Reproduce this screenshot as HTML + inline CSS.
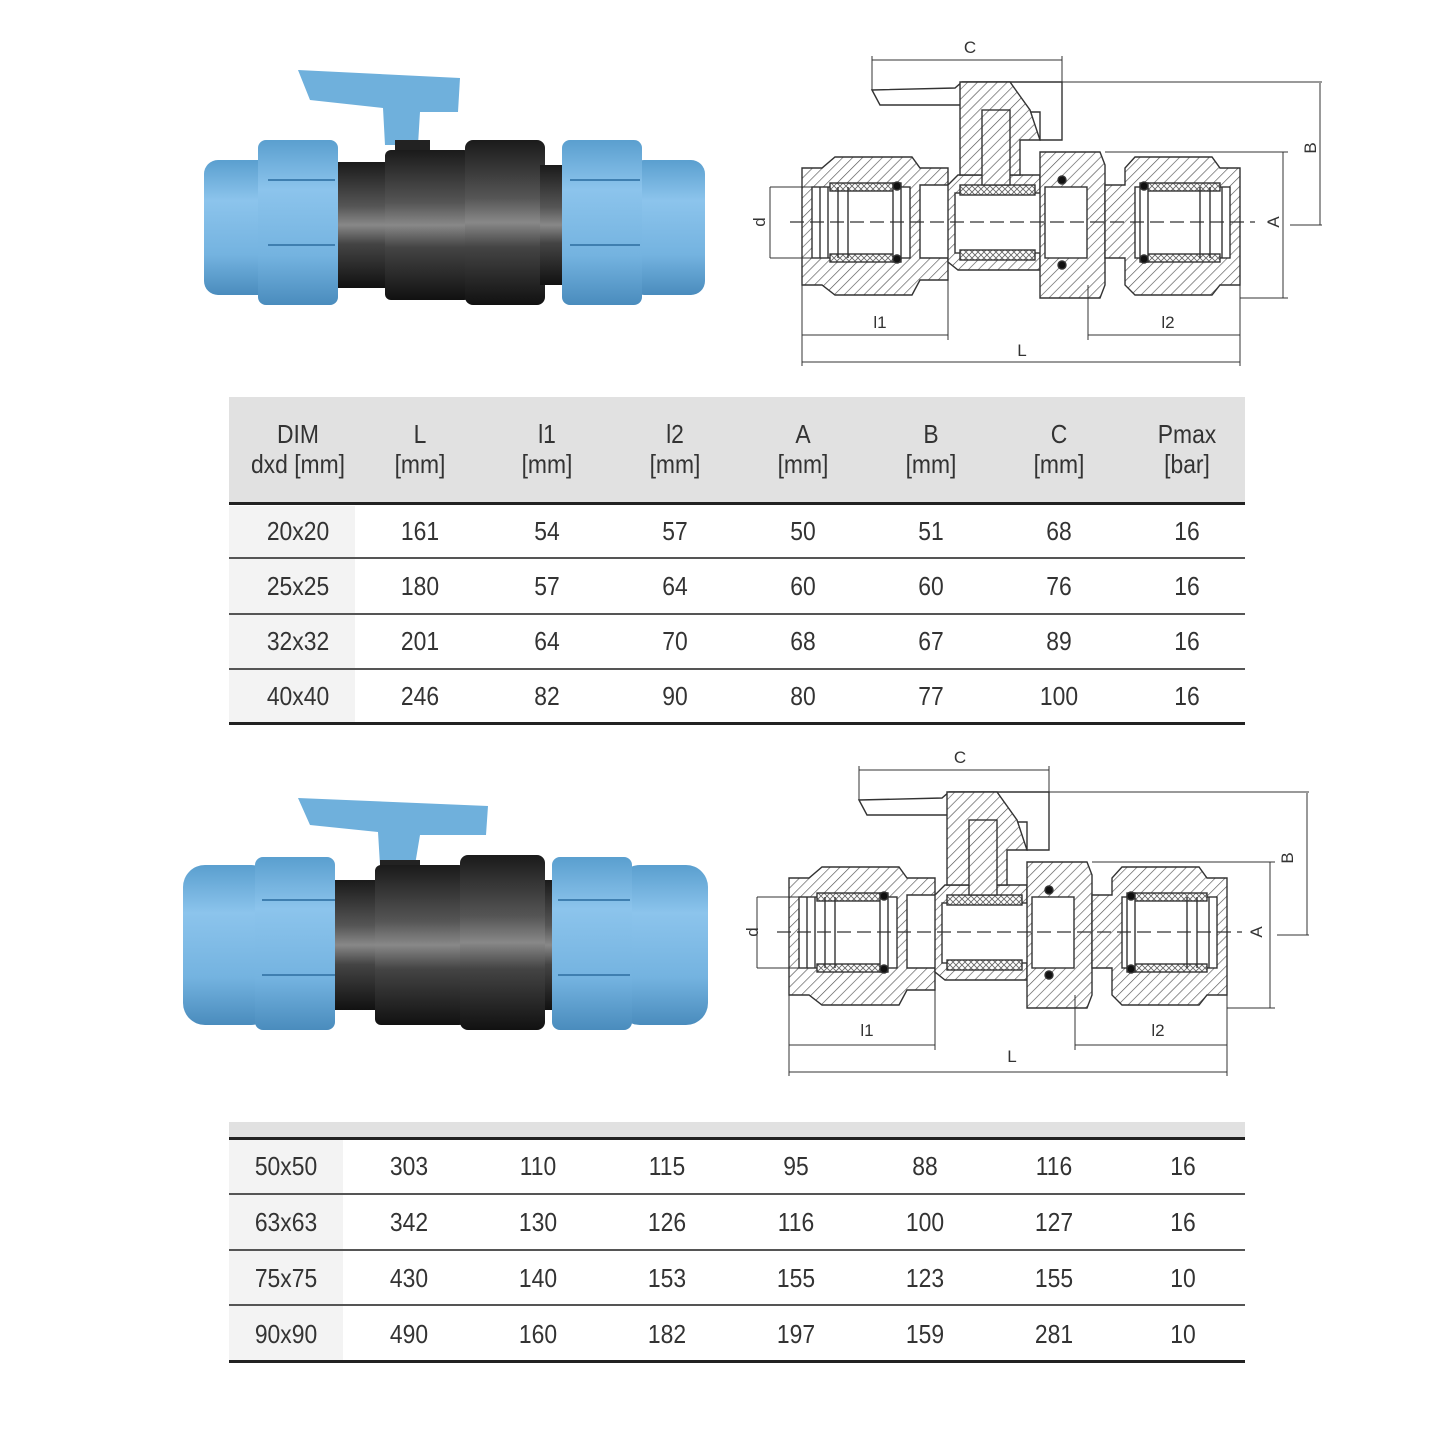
<!DOCTYPE html>
<html><head><meta charset="utf-8"><style>
html,body{margin:0;padding:0;background:#fff;}
body{width:1445px;height:1445px;position:relative;overflow:hidden;font-family:"Liberation Sans Narrow","Liberation Sans",sans-serif;color:#333;}
.a{position:absolute;}
.t{position:absolute;text-align:center;font-size:26px;line-height:30px;width:120px;transform:scaleX(0.88);}
</style></head><body>
<svg class="a" style="left:0;top:0" width="1445" height="1445" viewBox="0 0 1445 1445">
<defs>
<pattern id="h" width="7" height="7" patternUnits="userSpaceOnUse" patternTransform="rotate(45)"><rect width="7" height="7" fill="#fff"/><line x1="0" y1="0" x2="0" y2="7" stroke="#555" stroke-width="1.3"/></pattern>
<pattern id="x" width="6" height="6" patternUnits="userSpaceOnUse"><rect width="6" height="6" fill="#fff"/><path d="M0 0L6 6M6 0L0 6" stroke="#666" stroke-width="0.9"/></pattern>
<linearGradient id="bl" x1="0" y1="0" x2="0" y2="1"><stop offset="0" stop-color="#5a9fcf"/><stop offset="0.3" stop-color="#8cc4ec"/><stop offset="0.7" stop-color="#74b3e0"/><stop offset="1" stop-color="#4a8cbd"/></linearGradient>
<linearGradient id="bk" x1="0" y1="0" x2="0" y2="1"><stop offset="0" stop-color="#1a1a1a"/><stop offset="0.35" stop-color="#555"/><stop offset="0.5" stop-color="#888"/><stop offset="0.65" stop-color="#444"/><stop offset="1" stop-color="#111"/></linearGradient>
<g id="dwg" fill="none" stroke="#333" stroke-width="1.4">
 <!-- left fitting -->
 <path d="M802 168H822L835 157H912L920 168H948V185H920V258H948V280H920L912 295H835L822 285H802Z" fill="url(#h)"/>
 <rect x="812" y="187" width="98" height="71" fill="#fff"/>
 <rect x="830" y="183" width="70" height="8" fill="url(#x)"/><rect x="830" y="254" width="70" height="8" fill="url(#x)"/>
 <rect x="893" y="183" width="8" height="79" fill="#fff"/>
 <circle cx="897" cy="186" r="4" fill="#111"/><circle cx="897" cy="259" r="4" fill="#111"/>
 <path d="M820 187V258M828 187V258M838 187V258M848 187V258"/>
 <!-- center body -->
 <path d="M948 185L958 175H1040V270H958L948 262Z" fill="url(#h)"/>
 <rect x="955" y="193" width="90" height="60" fill="#fff"/>
 <rect x="960" y="185" width="75" height="10" fill="url(#x)"/><rect x="960" y="250" width="75" height="10" fill="url(#x)"/>
 <path d="M1052 203h10M1052 213h10M1052 223h10M1052 233h10M1052 243h10"/>
 <!-- union nut -->
 <path d="M1040 152H1100L1105 165V285L1100 298H1040Z" fill="url(#h)"/>
 <rect x="1045" y="187" width="42" height="71" fill="#fff"/>
 <circle cx="1062" cy="180" r="4" fill="#111"/><circle cx="1062" cy="265" r="4" fill="#111"/>
 <!-- right fitting -->
 <path d="M1105 185H1125V168L1135 157H1212L1220 168H1240V285H1220L1212 295H1135L1125 285V258H1105Z" fill="url(#h)"/>
 <rect x="1135" y="187" width="95" height="71" fill="#fff"/>
 <rect x="1145" y="183" width="75" height="8" fill="url(#x)"/><rect x="1145" y="254" width="75" height="8" fill="url(#x)"/>
 <rect x="1140" y="183" width="8" height="79" fill="#fff"/>
 <circle cx="1144" cy="186" r="4" fill="#111"/><circle cx="1144" cy="259" r="4" fill="#111"/>
 <path d="M1200 187V258M1210 187V258M1222 187V258"/>
 <!-- handle & stem -->
 <path d="M872 90L955 88L962 82H1062V140H1040V112H1010L980 105H880Z" fill="#fff"/>
 <path d="M960 82H1010L1030 110L1040 140H1020V175H960Z" fill="url(#h)"/>
 <rect x="982" y="110" width="28" height="75" fill="url(#h)"/>
 <!-- centre line -->
 <path d="M790 222H1255" stroke-dasharray="14 6" stroke-width="1.2"/>
 <!-- dims -->
 <g stroke-width="1">
 <path d="M872 90V56M1062 82V56M872 60H1062"/>
 <path d="M1010 82H1322M1320 83V225M1290 225H1322"/>
 <path d="M1105 152H1288M1240 298H1288M1283 152V298"/>
 <path d="M770 187H812M770 258H812M770 187V258"/>
 <path d="M802 285V366M948 262V340M802 335H948"/>
 <path d="M1088 285V340M1240 285V366M1088 335H1240M802 362H1240"/>
 </g>
</g>
</defs>
<!-- top photo -->
<path d="M298 70L460 78L458 112L420 112L418 145H385L383 108L310 100Z" fill="#6fb0dc"/>
<rect x="395" y="140" width="35" height="25" fill="#222"/>
<rect x="335" y="162" width="140" height="126" fill="url(#bk)"/>
<rect x="385" y="150" width="85" height="150" rx="6" fill="url(#bk)"/>
<rect x="465" y="140" width="80" height="165" rx="8" fill="url(#bk)"/>
<rect x="540" y="165" width="30" height="120" fill="url(#bk)"/>
<rect x="204" y="160" width="70" height="135" rx="14" fill="url(#bl)"/>
<rect x="258" y="140" width="80" height="165" rx="8" fill="url(#bl)"/>
<rect x="630" y="160" width="75" height="135" rx="14" fill="url(#bl)"/>
<rect x="562" y="140" width="80" height="165" rx="8" fill="url(#bl)"/>
<path d="M268 180H335M268 245H335M570 180H640M570 245H640" stroke="#3f7fb0" stroke-width="2"/>
<!-- bottom photo -->
<path d="M298 798L488 806L486 835L420 835L415 865H380L378 832L310 825Z" fill="#6fb0dc"/>
<rect x="380" y="860" width="40" height="25" fill="#222"/>
<rect x="330" y="880" width="225" height="130" fill="url(#bk)"/>
<rect x="375" y="865" width="90" height="160" rx="6" fill="url(#bk)"/>
<rect x="460" y="855" width="85" height="175" rx="8" fill="url(#bk)"/>
<rect x="183" y="865" width="90" height="160" rx="22" fill="url(#bl)"/>
<rect x="255" y="857" width="80" height="173" rx="8" fill="url(#bl)"/>
<rect x="618" y="865" width="90" height="160" rx="22" fill="url(#bl)"/>
<rect x="552" y="857" width="80" height="173" rx="8" fill="url(#bl)"/>
<path d="M262 900H335M262 975H335M558 900H630M558 975H630" stroke="#3f7fb0" stroke-width="2"/>
<!-- drawings -->
<use href="#dwg"/>
<use href="#dwg" transform="translate(-13,710)"/>
<g font-family="Liberation Sans, sans-serif" font-size="17" fill="#333" text-anchor="middle">
<text x="970" y="53">C</text><text x="880" y="328">l1</text><text x="1168" y="328">l2</text><text x="1022" y="356">L</text>
<text transform="translate(1316,148) rotate(-90)">B</text><text transform="translate(1279,222) rotate(-90)">A</text><text transform="translate(765,222) rotate(-90)">d</text>
<text x="960" y="763">C</text><text x="867" y="1036">l1</text><text x="1158" y="1036">l2</text><text x="1012" y="1062">L</text>
<text transform="translate(1293,858) rotate(-90)">B</text><text transform="translate(1262,932) rotate(-90)">A</text><text transform="translate(758,932) rotate(-90)">d</text>
</g>
<!-- table 1 -->
<rect x="229" y="397" width="1016" height="106" fill="#e1e1e1"/>
<rect x="229" y="506" width="126" height="216" fill="#f3f3f3"/>
<rect x="229" y="502" width="1016" height="3" fill="#222"/>
<rect x="229" y="557" width="1016" height="2" fill="#555"/>
<rect x="229" y="613" width="1016" height="2" fill="#555"/>
<rect x="229" y="668" width="1016" height="2" fill="#555"/>
<rect x="229" y="722" width="1016" height="3" fill="#222"/>
<!-- table 2 -->
<rect x="229" y="1122" width="1016" height="16" fill="#e1e1e1"/>
<rect x="229" y="1140" width="114" height="220" fill="#f3f3f3"/>
<rect x="229" y="1137" width="1016" height="3" fill="#222"/>
<rect x="229" y="1193" width="1016" height="2" fill="#555"/>
<rect x="229" y="1249" width="1016" height="2" fill="#555"/>
<rect x="229" y="1304" width="1016" height="2" fill="#555"/>
<rect x="229" y="1360" width="1016" height="3" fill="#222"/>
</svg>

<div class="t" style="left:238px;top:419px">DIM<br>dxd [mm]</div>
<div class="t" style="left:360px;top:419px">L<br>[mm]</div>
<div class="t" style="left:487px;top:419px">l1<br>[mm]</div>
<div class="t" style="left:615px;top:419px">l2<br>[mm]</div>
<div class="t" style="left:743px;top:419px">A<br>[mm]</div>
<div class="t" style="left:871px;top:419px">B<br>[mm]</div>
<div class="t" style="left:999px;top:419px">C<br>[mm]</div>
<div class="t" style="left:1127px;top:419px">Pmax<br>[bar]</div>

<div class="t" style="left:238px;top:516px">20x20</div><div class="t" style="left:360px;top:516px">161</div><div class="t" style="left:487px;top:516px">54</div><div class="t" style="left:615px;top:516px">57</div><div class="t" style="left:743px;top:516px">50</div><div class="t" style="left:871px;top:516px">51</div><div class="t" style="left:999px;top:516px">68</div><div class="t" style="left:1127px;top:516px">16</div>
<div class="t" style="left:238px;top:571px">25x25</div><div class="t" style="left:360px;top:571px">180</div><div class="t" style="left:487px;top:571px">57</div><div class="t" style="left:615px;top:571px">64</div><div class="t" style="left:743px;top:571px">60</div><div class="t" style="left:871px;top:571px">60</div><div class="t" style="left:999px;top:571px">76</div><div class="t" style="left:1127px;top:571px">16</div>
<div class="t" style="left:238px;top:626px">32x32</div><div class="t" style="left:360px;top:626px">201</div><div class="t" style="left:487px;top:626px">64</div><div class="t" style="left:615px;top:626px">70</div><div class="t" style="left:743px;top:626px">68</div><div class="t" style="left:871px;top:626px">67</div><div class="t" style="left:999px;top:626px">89</div><div class="t" style="left:1127px;top:626px">16</div>
<div class="t" style="left:238px;top:681px">40x40</div><div class="t" style="left:360px;top:681px">246</div><div class="t" style="left:487px;top:681px">82</div><div class="t" style="left:615px;top:681px">90</div><div class="t" style="left:743px;top:681px">80</div><div class="t" style="left:871px;top:681px">77</div><div class="t" style="left:999px;top:681px">100</div><div class="t" style="left:1127px;top:681px">16</div>

<div class="t" style="left:226px;top:1151px">50x50</div><div class="t" style="left:349px;top:1151px">303</div><div class="t" style="left:478px;top:1151px">110</div><div class="t" style="left:607px;top:1151px">115</div><div class="t" style="left:736px;top:1151px">95</div><div class="t" style="left:865px;top:1151px">88</div><div class="t" style="left:994px;top:1151px">116</div><div class="t" style="left:1123px;top:1151px">16</div>
<div class="t" style="left:226px;top:1207px">63x63</div><div class="t" style="left:349px;top:1207px">342</div><div class="t" style="left:478px;top:1207px">130</div><div class="t" style="left:607px;top:1207px">126</div><div class="t" style="left:736px;top:1207px">116</div><div class="t" style="left:865px;top:1207px">100</div><div class="t" style="left:994px;top:1207px">127</div><div class="t" style="left:1123px;top:1207px">16</div>
<div class="t" style="left:226px;top:1263px">75x75</div><div class="t" style="left:349px;top:1263px">430</div><div class="t" style="left:478px;top:1263px">140</div><div class="t" style="left:607px;top:1263px">153</div><div class="t" style="left:736px;top:1263px">155</div><div class="t" style="left:865px;top:1263px">123</div><div class="t" style="left:994px;top:1263px">155</div><div class="t" style="left:1123px;top:1263px">10</div>
<div class="t" style="left:226px;top:1319px">90x90</div><div class="t" style="left:349px;top:1319px">490</div><div class="t" style="left:478px;top:1319px">160</div><div class="t" style="left:607px;top:1319px">182</div><div class="t" style="left:736px;top:1319px">197</div><div class="t" style="left:865px;top:1319px">159</div><div class="t" style="left:994px;top:1319px">281</div><div class="t" style="left:1123px;top:1319px">10</div>
</body></html>
